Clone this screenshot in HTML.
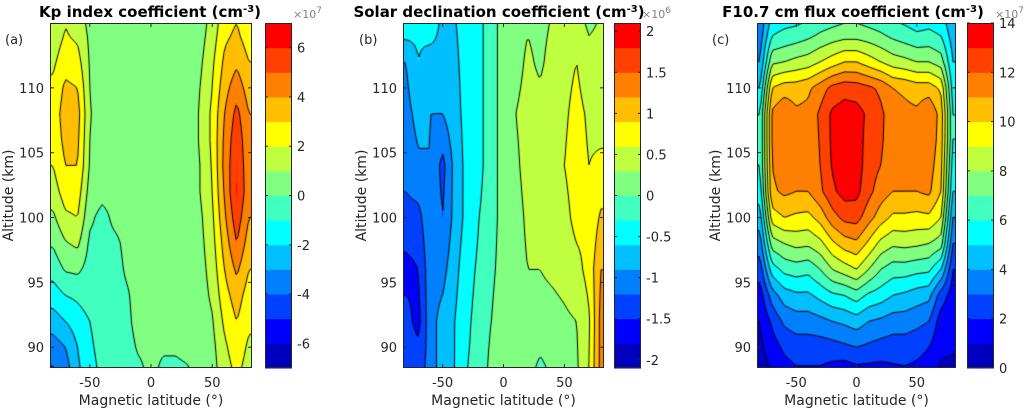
<!DOCTYPE html>
<html><head><meta charset="utf-8">
<style>
html,body{margin:0;padding:0;background:#fff;width:1026px;height:410px;overflow:hidden;position:relative;font-family:"DejaVu Sans","Liberation Sans",sans-serif}
canvas{position:absolute}
svg{position:absolute;left:0;top:0}
</style></head>
<body>
<canvas id="c1"></canvas>
<canvas id="c2"></canvas>
<canvas id="c3"></canvas>
<svg id="ov" width="1026" height="410"></svg>
<script>
// ---- data ----
const lats = [-80,-70,-60,-50,-40,-30,-20,-10,0,10,20,30,40,50,60,70,80];
const kpAlts = [88,90,92,94,96,98,100,102,104,106,108,110,112,114,116];
const kpValues = [
[-4.2,-3.6,-2.2,-1.5,-0.7,-0.4,-0.3,-0.2,0.2,-0.2,-0.2,-0.1,0.3,0.6,1.5,2.2,1.5],
[-3.5,-3,-2,-1.2,-0.6,-0.4,-0.3,0.1,0.2,0.1,0.1,0.2,0.3,0.7,1.8,2.6,1.8],
[-2.5,-2,-1.5,-1,-0.5,-0.3,-0.2,0.3,0.3,0.3,0.3,0.3,0.4,0.9,2.2,3,2.2],
[-1.5,-1,-0.8,-0.5,-0.5,-0.3,-0.1,0.3,0.3,0.3,0.3,0.3,0.5,1.2,2.6,3.5,2.5],
[-0.6,0.1,0.2,-0.4,-0.4,-0.3,0.1,0.3,0.3,0.3,0.3,0.3,0.6,1.4,3,4.2,3],
[0.1,0.9,1.2,-0.2,-0.3,-0.2,0.2,0.3,0.3,0.3,0.3,0.3,0.7,1.6,3.4,5,3.5],
[0.8,1.8,2,0.2,-0.3,0.2,0.3,0.3,0.3,0.3,0.3,0.3,0.8,1.8,3.8,5.6,4],
[1.5,2.5,2.5,0.6,0.3,0.3,0.3,0.3,0.3,0.3,0.3,0.3,1,2,4.1,6.1,4.3],
[2,3,3,0.9,0.3,0.3,0.3,0.3,0.3,0.3,0.3,0.3,1,2.1,4.3,5.9,4.3],
[2.3,3.3,3.2,1,0.3,0.3,0.3,0.3,0.3,0.3,0.3,0.3,1.1,2.2,4.2,5.7,4.2],
[2.4,3.5,3.4,1.1,0.3,0.3,0.3,0.3,0.3,0.3,0.3,0.3,1.1,2.2,4,5.3,4],
[2.2,3.2,3,1,0.3,0.3,0.3,0.3,0.3,0.3,0.3,0.3,1,2,3.6,4.6,3.5],
[1.8,2.6,2.4,0.9,0.3,0.3,0.3,0.3,0.3,0.3,0.3,0.3,0.8,1.8,3.2,3.8,3],
[1.4,2.1,1.8,0.8,0.3,0.3,0.3,0.3,0.3,0.3,0.3,0.3,0.6,1.5,2.8,3.2,2.5],
[1.2,1.8,1.5,0.5,0.3,0.3,0.3,0.3,0.3,0.3,0.3,0.3,0.5,1.2,2.5,2.8,2.2]];
const sdAlts = [88,92,96,100,104,108,112,116];
const sdValues = [
[-1.2,-1.3,-1.1,-0.7,-0.6,-0.3,-0.2,0.1,0.3,0.15,0.1,-0.1,0.05,0.2,0.25,0.6,1.3],
[-1.4,-1.6,-1.0,-0.8,-0.6,-0.35,-0.2,0.0,0.15,0.15,0.25,0.2,0.2,0.25,0.3,0.55,1.3],
[-1.6,-1.5,-1.0,-1.0,-0.7,-0.4,-0.25,-0.05,0.1,0.2,0.3,0.3,0.35,0.4,0.5,0.7,1.2],
[-1.3,-1.3,-0.95,-1.2,-0.8,-0.5,-0.3,-0.1,0.1,0.2,0.35,0.4,0.45,0.5,0.7,0.65,0.95],
[-1.1,-0.95,-0.9,-1.3,-0.8,-0.5,-0.4,-0.1,0.1,0.25,0.4,0.45,0.5,0.6,0.75,0.6,0.65],
[-1.0,-0.8,-0.9,-0.9,-0.7,-0.5,-0.4,-0.1,0.1,0.3,0.4,0.4,0.45,0.55,0.7,0.55,0.5],
[-0.9,-0.6,-0.8,-0.7,-0.65,-0.5,-0.4,-0.1,0.1,0.2,0.35,0.25,0.4,0.5,0.6,0.4,0.4],
[-0.2,-0.5,-0.2,-0.7,-0.6,-0.5,-0.4,-0.1,0.1,0.2,0.25,0.2,0.3,0.35,0.35,0.2,0.3]];
const fAlts = [88,90,92,94,96,98,100,102,104,106,108,110,112,114,116];
const fValues = [
[0.5,1,1.5,1.8,1.8,1.8,1.5,1.2,1.5,1.5,1.5,1.7,1.8,1.7,1.5,0.8,0.5],
[0.8,1.5,2.2,2.5,2.5,2.5,2.6,2.8,3,2.8,2.6,2.5,2.5,2.3,2,1.2,1.2],
[1,2.2,3.2,3.5,3.5,3.7,4,4.2,4.5,4,3.8,3.5,3.5,3.3,3,1.5,1.5],
[1.5,3.5,4.5,4.8,4.8,5.3,5.8,6,6.5,5.8,5.5,5,4.8,4.5,4.3,2.5,1.5],
[2.5,5.5,6.3,6.5,6.3,7,8,8.5,9,8,7,6.5,6.5,6.3,6.2,5,2],
[3.5,7.5,8,8.3,8.2,8.7,9.8,10.5,10.8,9.8,8.7,8.2,8.3,8.2,8,7.5,3],
[4.5,9.5,10,9.8,9.7,10.4,11.6,12.3,12.4,11.4,10.5,9.8,9.8,9.7,9.8,9,4],
[5.5,10.8,11.2,11,11,11.8,12.8,13.4,13.3,12.3,11.5,11,11,11,11.2,10,5],
[6,11,11.6,11.3,11.3,12,13.1,13.6,13.5,12.5,12,11.3,11.2,11.2,11.5,10.3,5.5],
[6,11.2,11.9,11.2,11.3,12.1,13.2,13.6,13.5,12.6,12.2,11.3,11.2,11.2,11.8,10.5,6],
[6,11.2,11.9,11.2,11.3,12.2,13.2,13.5,13.4,12.8,12.2,11.5,11.3,11.2,11.9,10.6,6],
[5,10,10.5,10.5,10.8,11.5,12.3,12.6,12.5,12.2,11.8,11,10.8,10.5,10.5,9.8,5.5],
[4,7.8,8,8.3,8.5,9,9.5,10,10,9.5,9,8.5,8.3,8,8,7.5,5],
[3.5,6,6.3,6.5,6.8,7.2,7.5,7.7,7.7,7.5,7.2,6.8,6.5,6.2,6.3,6,4.5],
[3,5,5.2,5.2,5.5,5.8,6,6.3,6.3,6,5.8,5.5,5.3,5,5.2,5,4]];
const xTicks = [-50,0,50];
const yTicks = [90,95,100,105,110];
const kpCbTicks = [-6,-4,-2,0,2,4,6];
const sdCbTicks = [-2,-1.5,-1,-0.5,0,0.5,1,1.5,2];
const fCbTicks = [0,2,4,6,8,10,12,14];
const colors = ['#0000bf','#0000ff','#0040ff','#0080ff','#00bfff','#00ffff','#40ffbf','#80ff80','#bfff40','#ffff00','#ffbf00','#ff8000','#ff4000','#ff0000'];

const LAT0=-82.5, LAT1=82.5, ALT_TOP=115.0, ALT_BOT=88.4, PT=23, PB=368;
const panels = [
 {cv:'c1',x0:50,x1:252,cb:265,alts:kpAlts,vals:kpValues,lo:-7,hi:7,ticks:kpCbTicks,exp:'7',title:'Kp index coefficient (cm',tx:150,lab:'(a)',lx:5,name:'kp'},
 {cv:'c2',x0:403,x1:604,cb:614,alts:sdAlts,vals:sdValues,lo:-2.1,hi:2.1,ticks:sdCbTicks,exp:'6',title:'Solar declination coefficient (cm',tx:499,lab:'(b)',lx:359,name:'solar-declination'},
 {cv:'c3',x0:757,x1:956,cb:967,alts:fAlts,vals:fValues,lo:0,hi:14,ticks:fCbTicks,exp:'7',title:'F10.7 cm flux coefficient (cm',tx:853,lab:'(c)',lx:712,name:'f107'}
];
const NS='http://www.w3.org/2000/svg';
const ov=document.getElementById('ov');
function mk(tag,attrs,parent){const e=document.createElementNS(NS,tag);for(const k in attrs)e.setAttribute(k,attrs[k]);(parent||ov).appendChild(e);return e;}

function interp(p,lat,alt){
  const L=Math.max(lats[0],Math.min(lats[lats.length-1],lat));
  const A=Math.max(p.alts[0],Math.min(p.alts[p.alts.length-1],alt));
  let i=0;while(i<lats.length-2&&L>lats[i+1])i++;
  let j=0;while(j<p.alts.length-2&&A>p.alts[j+1])j++;
  const tx=(L-lats[i])/(lats[i+1]-lats[i]);
  const ty=(A-p.alts[j])/(p.alts[j+1]-p.alts[j]);
  const v=p.vals;
  return (v[j][i]*(1-tx)+v[j][i+1]*tx)*(1-ty)+(v[j+1][i]*(1-tx)+v[j+1][i+1]*tx)*ty;
}
function hex(c){return [parseInt(c.slice(1,3),16),parseInt(c.slice(3,5),16),parseInt(c.slice(5,7),16)];}

panels.forEach(p=>{
  const W=p.x1-p.x0,H=PB-PT;
  const xs=lat=>p.x0+(lat-LAT0)/(LAT1-LAT0)*W;
  const ys=alt=>PT+(ALT_TOP-alt)/(ALT_TOP-ALT_BOT)*H;
  const cv=document.getElementById(p.cv);
  cv.width=W;cv.height=H;cv.style.left=p.x0+'px';cv.style.top=PT+'px';
  const ctx=cv.getContext('2d');
  const img=ctx.createImageData(W,H);
  const n=colors.length, step=(p.hi-p.lo)/n;
  const f=(px,py)=>interp(p,LAT0+px/W*(LAT1-LAT0),ALT_TOP-py/H*(ALT_TOP-ALT_BOT));
  for(let y=0;y<H;y++)for(let x=0;x<W;x++){
    const v=f(x+0.5,y+0.5);
    let k=Math.floor((v-p.lo)/step);k=Math.max(0,Math.min(n-1,k));
    const c=hex(colors[k]);const o=(y*W+x)*4;
    img.data[o]=c[0];img.data[o+1]=c[1];img.data[o+2]=c[2];img.data[o+3]=255;
  }
  ctx.putImageData(img,0,0);
  ctx.strokeStyle='#000';ctx.lineWidth=1;ctx.beginPath();
  const g=2;
  const gx=Math.ceil(W/g)+1,gy=Math.ceil(H/g)+1;
  const grid=[];for(let j=0;j<gy;j++){grid.push([]);for(let i=0;i<gx;i++)grid[j].push(f(i*g,j*g));}
  for(let k=1;k<n;k++){
    const L=p.lo+k*step;
    for(let j=0;j<gy-1;j++)for(let i=0;i<gx-1;i++){
      const a=grid[j][i],b=grid[j][i+1],c=grid[j+1][i+1],d=grid[j+1][i];
      const pts=[];
      const e=(v1,v2,x1,y1,x2,y2)=>{if((v1<L)!==(v2<L)){const t=(L-v1)/(v2-v1);pts.push([x1+(x2-x1)*t,y1+(y2-y1)*t]);}};
      const X=i*g,Y=j*g;
      e(a,b,X,Y,X+g,Y);e(b,c,X+g,Y,X+g,Y+g);e(c,d,X+g,Y+g,X,Y+g);e(d,a,X,Y+g,X,Y);
      for(let q=0;q+1<pts.length;q+=2){ctx.moveTo(pts[q][0],pts[q][1]);ctx.lineTo(pts[q+1][0],pts[q+1][1]);}
    }
  }
  ctx.stroke();

  const box=mk('rect',{x:p.x0+0.5,y:PT+0.5,width:W-1,height:H-1,fill:'none',stroke:'#262626','stroke-width':1});
  
  xTicks.forEach(t=>{
    const x=xs(t);
    mk('line',{x1:x,y1:PB,x2:x,y2:PB-4,stroke:'#262626'});
    mk('line',{x1:x,y1:PT,x2:x,y2:PT+4,stroke:'#262626'});
    const tl=mk('text',{x:x,y:387,'font-size':13,fill:'#262626','text-anchor':'middle'});tl.textContent=String(t);
    
  });
  yTicks.forEach(t=>{
    const y=ys(t);
    mk('line',{x1:p.x0,y1:y,x2:p.x0+4,y2:y,stroke:'#262626'});
    mk('line',{x1:p.x1,y1:y,x2:p.x1-4,y2:y,stroke:'#262626'});
    const tl=mk('text',{x:p.x0-6,y:y+5,'font-size':13,fill:'#262626','text-anchor':'end'});tl.textContent=t;
    
  });
  const xl=mk('text',{x:(p.x0+p.x1)/2,y:405,'font-size':14,fill:'#262626','text-anchor':'middle'});xl.textContent='Magnetic latitude (°)';
  
  const ylx=p.x0-37,yly=(PT+PB)/2;
  const yl=mk('text',{x:ylx,y:yly,'font-size':14,fill:'#262626','text-anchor':'middle',transform:`rotate(-90 ${ylx} ${yly})`});yl.textContent='Altitude (km)';
  
  const ti=mk('text',{x:p.tx,y:17,'font-size':15,'font-weight':'bold',fill:'#000','text-anchor':'middle'});
  ti.textContent=p.title;const sp=mk('tspan',{dy:-5,'font-size':10},ti);sp.textContent='-3';const sp2=mk('tspan',{dy:5},ti);sp2.textContent=')';
  
  const lb=mk('text',{x:p.lx,y:44,'font-size':13,fill:'#262626'});lb.textContent=p.lab;
  

  const cbW=27,cbx=p.cb;
  const cg=mk('g',{});
  const cy=v=>PT+(p.hi-v)/(p.hi-p.lo)*H;
  colors.forEach((c,k)=>{
    const v0=p.lo+k*step,v1=v0+step;
    const r=mk('rect',{x:cbx,y:cy(v1),width:cbW,height:cy(v0)-cy(v1)+0.5,fill:c},cg);
    
  });
  mk('rect',{x:cbx+0.5,y:PT+0.5,width:cbW-1,height:H-1,fill:'none',stroke:'#262626'},cg);
  p.ticks.forEach(t=>{
    const y=cy(t);
    mk('line',{x1:cbx,y1:y,x2:cbx+3,y2:y,stroke:'#262626'},cg);
    mk('line',{x1:cbx+cbW,y1:y,x2:cbx+cbW-3,y2:y,stroke:'#262626'},cg);
    const tl=mk('text',{x:cbx+cbW+5,y:y+5,'font-size':13,fill:'#262626'},cg);tl.textContent=t;
    
  });
  const ex=mk('text',{x:cbx+cbW+1,y:18,'font-size':11,fill:'#808080'});ex.textContent='×10';
  const es=mk('tspan',{dy:-5,'font-size':9},ex);es.textContent=p.exp;
  
});
</script>
</body></html>
